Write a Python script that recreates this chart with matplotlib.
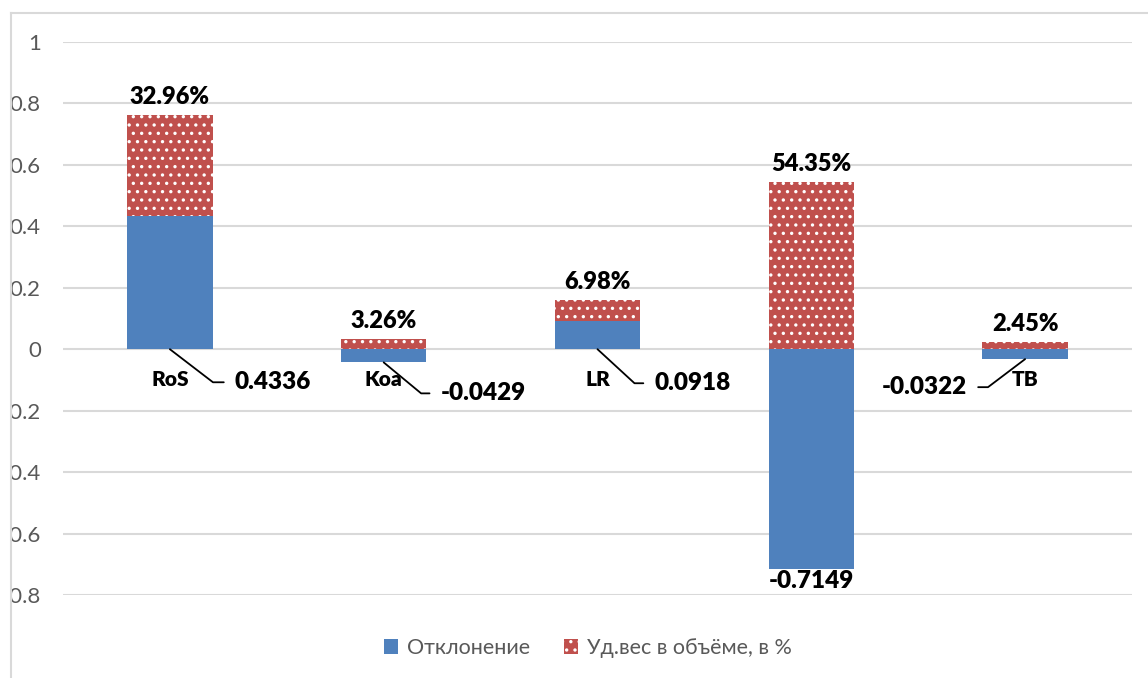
import matplotlib
matplotlib.use("Agg")
import matplotlib.pyplot as plt
import numpy as np
from matplotlib.lines import Line2D
from matplotlib.patches import Rectangle

plt.rcParams['font.family'] = ['Lato', 'DejaVu Sans']
plt.rcParams['hatch.linewidth'] = 1.2

categories = ['RoS', 'Koa', 'LR', 'IB', 'TB']
deviation = [0.4336, -0.0429, 0.0918, -0.7149, -0.0322]
share = [0.3296, 0.0326, 0.0698, 0.5435, 0.0245]
share_labels = ['32.96%', '3.26%', '6.98%', '54.35%', '2.45%']
value_labels = ['0.4336', '-0.0429', '0.0918', '-0.7149', '-0.0322']

blue = '#4f81bd'
red = '#c0504d'
grey = '#595959'
light = '#d9d9d9'
heavy = 'heavy'

W, H = 1148, 678
fig = plt.figure(figsize=(W / 100, H / 100), dpi=100)
ax = fig.add_axes([63 / W, 1 - 595 / H, (1132 - 63) / W, (595 - 42) / H])

x = np.arange(len(categories))
dev = np.array(deviation)
shr = np.array(share)
red_bottom = np.where(dev > 0, dev, 0)

ax.bar(x, dev, width=0.4, color=blue, linewidth=0, label='Отклонение', zorder=2)
ax.bar(x, shr, width=0.4, bottom=red_bottom, color=red, edgecolor='white',
       linewidth=0, hatch='..', label='Уд.вес в объёме, в %', zorder=2)

ax.set_xlim(-0.5, len(categories) - 0.5)
ax.set_ylim(-0.8, 1.0)
yt = np.round(np.arange(-0.8, 1.01, 0.2), 1) + 0.0
ax.set_yticks(yt)
ax.set_yticklabels([f'{v:g}' if abs(v) > 1e-9 else '0' for v in yt],
                   color=grey, fontsize=16)
ax.tick_params(axis='y', length=0, pad=16)
ax.grid(axis='y', color=light, linewidth=1.5, zorder=0)
for s in ['top', 'right', 'left']:
    ax.spines[s].set_visible(False)
ax.spines['bottom'].set_position(('data', 0))
ax.spines['bottom'].set_visible(False)
ax.set_xticks(x)
ax.set_xticklabels(categories, fontsize=15, fontweight=heavy)
ax.tick_params(axis='x', length=0, pad=15)

# percent labels above the stacks
for i in range(len(categories)):
    ax.annotate(share_labels[i], (x[i], red_bottom[i] + shr[i]),
                xytext=(0, 5), textcoords='offset points', ha='center',
                va='bottom', fontsize=17, fontweight=heavy)

# value labels with leader lines
callouts = {0: (46.8, -23.8, -37.5), 1: (41, -22.3, -39.6),
            2: (41, -24.5, -42.6), 4: (-41.8, -20.2, 37.1)}
for i, (dx, dy, ang) in callouts.items():
    left = dx > 0
    ax.annotate(value_labels[i], (x[i], min(dev[i], 0)), xytext=(dx, dy),
                textcoords='offset points', ha='left' if left else 'right',
                va='center', fontsize=17.5, fontweight=heavy,
                arrowprops=dict(arrowstyle='-', color='black', lw=1.3,
                                connectionstyle=f'angle,angleA=0,angleB={ang},rad=0',
                                relpos=(0, 0.5) if left else (1, 0.5),
                                shrinkA=6, shrinkB=0))
ax.annotate(value_labels[3], (x[3], dev[3]), xytext=(0, -1),
            textcoords='offset points', ha='center', va='top',
            fontsize=17.5, fontweight=heavy)

fig.legend(loc='center', bbox_to_anchor=(588 / W, 1 - 648 / H), ncol=2,
           frameon=False, fontsize=15.5, labelcolor=grey, handlelength=0.65,
           handleheight=0.65, handletextpad=0.4, columnspacing=1.6)

# cropped outer frame of the original chart
fig.add_artist(Rectangle((0, 0), 11 / W, 1, transform=fig.transFigure,
                         facecolor='white', edgecolor='none', zorder=10))
fig.add_artist(Line2D([11 / W, 11 / W], [0, 1 - 13 / H], transform=fig.transFigure,
                      color=light, linewidth=1.5, zorder=11))
fig.add_artist(Line2D([11 / W, 1], [1 - 13 / H, 1 - 13 / H], transform=fig.transFigure,
                      color=light, linewidth=1.5, zorder=11))

fig.savefig('out.png', dpi=100)
